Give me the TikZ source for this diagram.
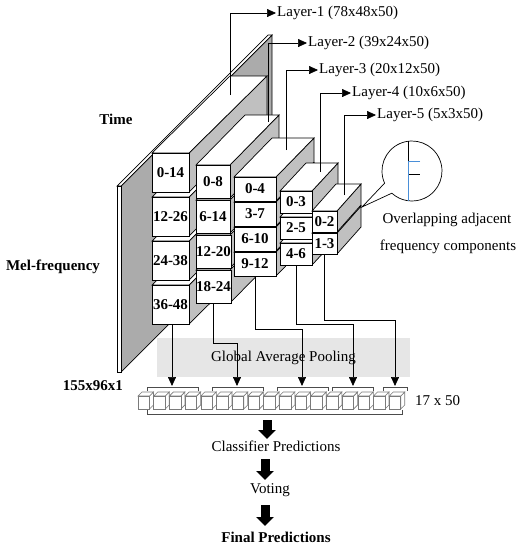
\documentclass[tikz,border=0pt]{standalone}
\usepackage{fontspec}
\setmainfont{Liberation Serif}
\usetikzlibrary{arrows.meta,calc}
\definecolor{sidegray}{HTML}{C0C0C0}
\definecolor{slabgray}{HTML}{ABABAB}
\definecolor{gapgray}{HTML}{E6E6E6}
\definecolor{magblue}{HTML}{4A8FD8}
\definecolor{cubeline}{HTML}{7A7A7A}
\newcommand{\cub}[8]{%
  \filldraw[face, fill=sidegray] ({#2+#4},{-(#3)}) -- ++(#6,#7) -- ++(0,{-(#5)}) -- ({#2+#4},{-(#3)-(#5)}) -- cycle;
  \filldraw[face, fill=white] (#2,{-(#3)}) -- ++(#6,#7) -- ++(#4,0) -- ({#2+#4},{-(#3)}) -- cycle;
  \node[boxlab, minimum width=#4pt, minimum height=#5pt] (#1) at (#2,{-(#3)}) {#8};
}
\begin{document}
\begin{tikzpicture}[x=1pt,y=1pt,line join=miter,
  every node/.style={font=\fontsize{15}{18}\selectfont, inner sep=1pt},
  face/.style={draw, line width=0.7pt},
  boxlab/.style={draw, line width=0.7pt, fill=white, font=\fontsize{15}{18}\selectfont\bfseries,
    inner sep=0pt, outer sep=0pt, anchor=north west},
  bold/.style={font=\fontsize{15}{18}\selectfont\bfseries},
  conn/.style={line width=0.7pt},
  tipc/.style={-{Triangle[length=9pt,width=8pt]}},
  blk/.style={line width=9pt, -{Triangle[length=9pt,width=17pt]}},
  brk/.style={draw=black!70, line width=0.7pt},
  cube/.style={draw=cubeline, fill=white, line width=0.6pt}]
\useasboundingbox (0,0) rectangle (523,-550);

% input slab
\filldraw[face, fill=slabgray] (121,-186) -- (272,-35) -- (272,-221) -- (121,-372) -- cycle;
\filldraw[face, fill=white] (117,-186) -- (121,-186) -- (272,-35) -- (268,-35) -- cycle;
\filldraw[face, fill=white] (117,-186) rectangle (121,-372);

% layer 1
\cub{a4}{152}{285}{37}{39}{78}{77}{36-48}
\cub{a3}{152}{241}{37}{39}{78}{77}{24-38}
\cub{a2}{152}{197}{37}{39}{78}{77}{12-26}
\cub{a1}{152}{153}{37}{39}{78}{77}{0-14}
% layer 2
\cub{b4}{196}{270}{34}{33}{49}{50}{18-24}
\cub{b3}{196}{235}{34}{33}{49}{50}{12-20}
\cub{b2}{196}{200}{34}{33}{49}{50}{6-14}
\cub{b1}{196}{165}{34}{33}{49}{50}{0-8}
% layer 3
\cub{c4}{234}{252}{42}{24}{38}{39}{9-12}
\cub{c3}{234}{227}{42}{24}{38}{39}{6-10}
\cub{c2}{234}{202}{42}{24}{38}{39}{3-7}
\cub{c1}{234}{177}{42}{24}{38}{39}{0-4}
% layer 4
\cub{d3}{280}{243}{32}{22}{26}{28}{4-6}
\cub{d2}{280}{217}{32}{22}{26}{28}{2-5}
\cub{d1}{280}{191}{32}{22}{26}{28}{0-3}
% layer 5
\cub{e2}{312}{233}{25}{21}{24}{27}{1-3}
\cub{e1}{312}{211}{25}{21}{24}{27}{0-2}

% layer labels
\node[anchor=west] (lab1) at (276,-13) {Layer-1 (78x48x50)};
\node[anchor=west] (lab2) at (307,-43) {Layer-2 (39x24x50)};
\node[anchor=west] (lab3) at (318,-70) {Layer-3 (20x12x50)};
\node[anchor=west] (lab4) at (351,-93) {Layer-4 (10x6x50)};
\node[anchor=west] (lab5) at (376,-115) {Layer-5 (5x3x50)};
\coordinate (p1) at (230,-95);
\coordinate (p2) at (268,-122);
\coordinate (p3) at (286,-150);
\coordinate (p4) at (320,-172);
\coordinate (p5) at (344,-195);
\draw[conn,tipc] (p1) |- (lab1.west);
\draw[conn,tipc] (p2) |- (lab2.west);
\draw[conn,tipc] (p3) |- (lab3.west);
\draw[conn,tipc] (p4) |- (lab4.west);
\draw[conn,tipc] (p5) |- (lab5.west);

% side labels
\node[bold] (time) at (116,-119) {Time};
\node[bold] (mel) at (53,-267) {Mel-frequency};
\node[bold] (insz) at (93,-386) {155x96x1};

% global average pooling
\node[fill=gapgray, minimum width=253pt, minimum height=39pt, inner sep=0pt] (gap) at (283.5,-357.5) {Global Average Pooling};

% connectors to pooled vector
\coordinate (g1) at (172,-386);
\coordinate (g2) at (237,-386);
\coordinate (g3) at (302,-386);
\coordinate (g4) at (353,-386);
\coordinate (g5) at (395,-386);
\coordinate (h2) at (237,-343);
\coordinate (h3) at (302,-329);
\coordinate (h4) at (353,-324);
\coordinate (h5) at (395,-320);
\draw[conn,tipc] (a4.south -| g1) -- (g1);
\draw[conn,tipc] (b4.south) |- (h2) -- (g2);
\draw[conn,tipc] (c4.south) |- (h3) -- (g3);
\draw[conn,tipc] (d3.south) |- (h4) -- (g4);
\draw[conn,tipc] (e2.south) |- (h5) -- (g5);

% small cubes
\foreach \i in {0,...,16}{
  \pgfmathsetmacro{\cx}{138+15.7*\i}
  \filldraw[cube] ({\cx+11.5},-396) -- ++(4,4) -- ++(0,-13) -- ({\cx+11.5},-409) -- cycle;
  \filldraw[cube] (\cx,-396) -- ++(4,4) -- ++(11.5,0) -- ({\cx+11.5},-396) -- cycle;
  \filldraw[cube] (\cx,-396) rectangle ({\cx+11.5},-409);
}
% brackets
\draw[brk] (147,-391) -- (147,-387) -- (198,-387) -- (198,-391);
\draw[brk] (212,-391) -- (212,-387) -- (263,-387) -- (263,-391);
\draw[brk] (277,-391) -- (277,-387) -- (328,-387) -- (328,-391);
\draw[brk] (332,-391) -- (332,-387) -- (373,-387) -- (373,-391);
\draw[brk] (383,-391) -- (383,-387) -- (407,-387) -- (407,-391);
\draw[brk] (147,-410) -- (147,-414) -- (402,-414) -- (402,-410);
\node[anchor=west] (dim) at (414,-401) {17 x 50};

% bottom flow
\coordinate (k1s) at (267,-420);
\coordinate (k1e) at (267,-439);
\node (cp) at (276,-446) {Classifier Predictions};
\coordinate (k2s) at (265,-459);
\coordinate (k2e) at (265,-480);
\node (vt) at (270,-490) {Voting};
\coordinate (k3s) at (265,-505);
\coordinate (k3e) at (265,-526);
\node[bold] (fp) at (276,-537) {Final Predictions};
\draw[blk] (k1s) -- (k1e);
\draw[blk] (k2s) -- (k2e);
\draw[blk] (k3s) -- (k3e);

% magnifier
\coordinate (mc) at (412,-171);
\coordinate (mt) at (362,-207);
\draw[conn] ($(mc)+(227.7:30)$) -- (mt) -- ($(mc)+(204:30)$) arc[start angle=204, end angle=-132.3, radius=30];
\draw[conn] (408,-141.3) -- (408,-174) -- (420,-174);
\draw[conn, magblue] (420,-161) -- (408,-161) -- (408,-200.7);
\node (ov1) at (447,-220) {Overlapping adjacent};
\node (ov2) at (448,-247) {frequency components};
\end{tikzpicture}
\end{document}
